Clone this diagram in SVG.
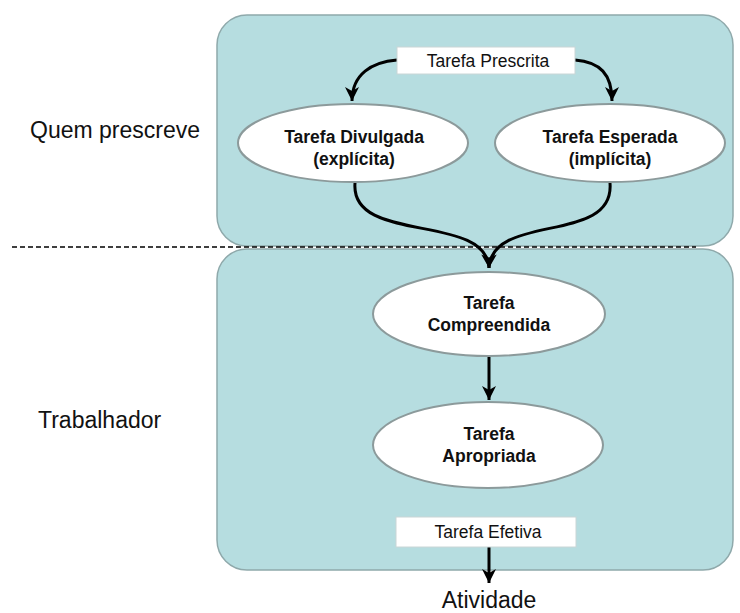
<svg xmlns="http://www.w3.org/2000/svg" width="740" height="613" viewBox="0 0 740 613">
<defs>
<style>
.panel{fill:#b6dde0;stroke:#8fa9ab;stroke-width:1.5}
.ell{fill:#ffffff;stroke:#8c9a9b;stroke-width:2}
.box{fill:#ffffff;stroke:#c9d6d6;stroke-width:1}
.lbl{font-family:"Liberation Sans",Arial,sans-serif;fill:#111}
.b{font-weight:bold;font-size:17.5px;text-anchor:middle}
.r{font-size:17.5px;text-anchor:middle}
.side{font-size:23px}
.con{fill:none;stroke:#000;stroke-width:3}
</style>
<marker id="ah" markerUnits="userSpaceOnUse" markerWidth="20" markerHeight="20" viewBox="0 0 20 20" refX="16" refY="10" orient="auto">
<path d="M2 3 L16 10 L2 17 L6 10 Z" fill="#000"/>
</marker>
</defs>
<rect x="217" y="15" width="516" height="231" rx="30" class="panel"/>
<rect x="217" y="249" width="516" height="321" rx="30" class="panel"/>
<line x1="12" y1="247" x2="696" y2="247" stroke="#000" stroke-width="1.5" stroke-dasharray="5,3"/>
<text class="lbl side" x="30" y="138">Quem prescreve</text>
<text class="lbl side" x="38" y="428">Trabalhador</text>
<g id="connectors">
<path class="con" d="M397 60 C372 62 352 74 352 101" marker-end="url(#ah)"/>
<path class="con" d="M575 60 C600 62 612 74 612 101" marker-end="url(#ah)"/>
<path class="con" d="M355 183 C350 245 486 212 489 268" marker-end="url(#ah)"/>
<path class="con" d="M610 183 C615 245 492 212 489 268" marker-end="url(#ah)"/>
<path class="con" d="M489 357 L489 400" marker-end="url(#ah)"/>
<path class="con" d="M489 547 L489 583" stroke-width="2" marker-end="url(#ah)"/>
</g>
<g id="prescrita">
<rect x="397" y="47" width="178" height="27" class="box"/>
<text class="lbl r" x="488" y="67">Tarefa Prescrita</text>
</g>
<g id="divulgada">
<ellipse cx="353" cy="143" rx="115" ry="39" class="ell"/>
<text class="lbl b" x="354" y="143">Tarefa Divulgada</text>
<text class="lbl b" x="354" y="165">(explícita)</text>
</g>
<g id="esperada">
<ellipse cx="610" cy="143" rx="115" ry="39" class="ell"/>
<text class="lbl b" x="610" y="143">Tarefa Esperada</text>
<text class="lbl b" x="610" y="165">(implícita)</text>
</g>
<g id="compreendida">
<ellipse cx="489" cy="314" rx="116" ry="42" class="ell"/>
<text class="lbl b" x="489" y="309">Tarefa</text>
<text class="lbl b" x="489" y="331">Compreendida</text>
</g>
<g id="apropriada">
<ellipse cx="488" cy="445" rx="115" ry="43" class="ell"/>
<text class="lbl b" x="489" y="440">Tarefa</text>
<text class="lbl b" x="489" y="462">Apropriada</text>
</g>
<g id="efetiva">
<rect x="396" y="517" width="180" height="30" class="box"/>
<text class="lbl r" x="488" y="538">Tarefa Efetiva</text>
</g>
<g id="atividade">
<text class="lbl" x="489" y="608" font-size="23" text-anchor="middle">Atividade</text>
</g>
</svg>
